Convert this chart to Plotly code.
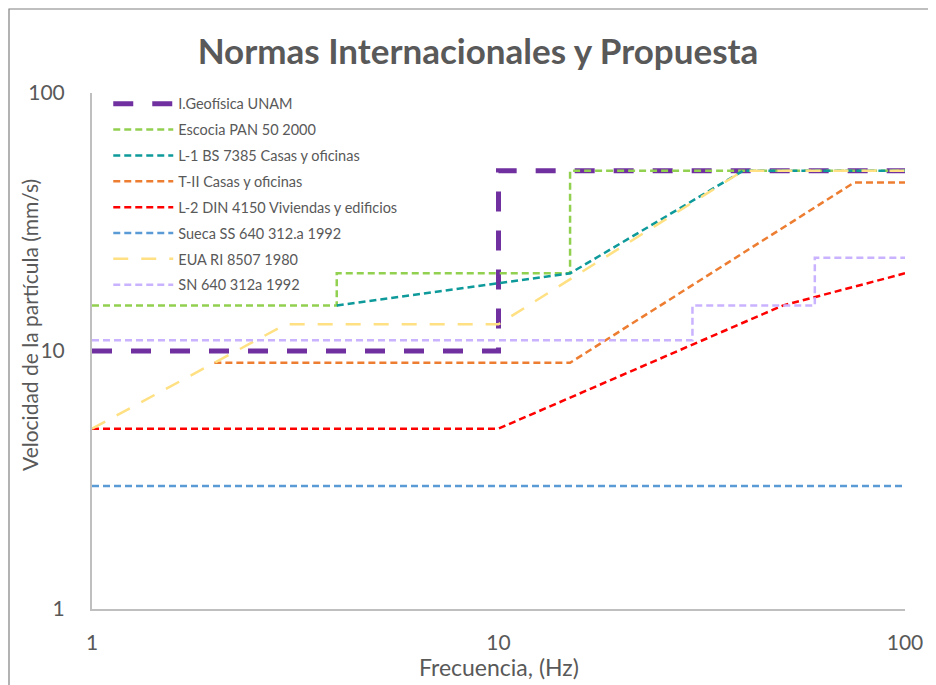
import plotly.graph_objects as go

# ---- data ----
geo_x = [1, 10, 10, 100]
geo_y = [10, 10, 50, 50]

esc_x = [1, 4, 4, 15, 15, 100]
esc_y = [15, 15, 20, 20, 50, 50]

bs_x = [4, 15, 40, 100]
bs_y = [15, 20, 50, 50]

t2_x = [2, 15, 75, 100]
t2_y = [9, 9, 45, 45]

din_x = [1, 10, 50, 100]
din_y = [5, 5, 15, 20]

sue_x = [1, 100]
sue_y = [3, 3]

eua_x = [1, 3, 10, 40, 100]
eua_y = [5, 12.7, 12.7, 50, 50]

sn_x = [1, 30, 30, 60, 60, 100]
sn_y = [11, 11, 15, 15, 23, 23]

names = ["I.Geofísica UNAM", "Escocia PAN 50 2000", "L-1 BS 7385 Casas y oficinas",
         "T-II Casas y oficinas", "L-2 DIN 4150 Viviendas y edificios",
         "Sueca SS 640 312.a 1992", "EUA RI 8507 1980", "SN 640 312a 1992"]
xs = [geo_x, esc_x, bs_x, t2_x, din_x, sue_x, eua_x, sn_x]
ys = [geo_y, esc_y, bs_y, t2_y, din_y, sue_y, eua_y, sn_y]

colors = ["#7030A0", "#92D050", "#0E9A9A", "#ED7D31", "#FF0000", "#5B9BD5", "#FFE082", "#C9B2FF"]
widths = [5, 2.5, 2.5, 2.5, 2.5, 2.5, 2.5, 2.5]
dashes = ["20px,19px", "7px,4px", "7px,4px", "7px,4px", "7px,4px", "7px,4px", "15px,13px", "7px,4px"]

FONT = "Lato"
GRAY = "#595959"

# figure sits at an 8px page offset (default body margin)
W, H = 920, 677
L, R, T, B = 84, 23, 85, 76
PW, PH = W - L - R, H - T - B

fig = go.Figure()
for i in range(len(names)):
    fig.add_trace(go.Scatter(
        x=xs[i], y=ys[i], mode="lines", name=names[i],
        legendgroup=f"g{i}",
        line=dict(color=colors[i], width=widths[i], dash=dashes[i]),
    ))

fig.update_layout(
    width=W, height=H,
    margin=dict(l=L, r=R, t=T, b=B),
    paper_bgcolor="white", plot_bgcolor="white",
    font=dict(family=FONT, color=GRAY),
    title=dict(text="<b>Normas Internacionales y Propuesta</b>",
               x=470 / W, xref="container", xanchor="center",
               y=1 - 44 / H, yref="container", yanchor="middle",
               font=dict(size=35, family=FONT, color=GRAY)),
    showlegend=True,
    legend=dict(x=0.02, y=1.01, xanchor="left", yanchor="top",
                bgcolor="rgba(0,0,0,0)", font=dict(size=14.5, family=FONT, color=GRAY),
                itemwidth=60, tracegroupgap=4),
    shapes=[dict(type="rect", xref="paper", yref="paper",
                 x0=(1 - L) / PW, x1=1.2, y0=-0.3, y1=(T + PH - 1) / PH,
                 line=dict(color="#808080", width=1.2), fillcolor="rgba(0,0,0,0)", layer="below")],
    annotations=[
        dict(text="Frecuencia, (Hz)", xref="paper", yref="paper",
             x=(490.5 - L) / PW, y=(T + PH - 659) / PH, xanchor="center", yanchor="middle",
             showarrow=False, font=dict(size=23, family=FONT, color=GRAY)),
        dict(text="Velocidad de la partícula (mm/s)", xref="paper", yref="paper",
             x=(21 - L) / PW, y=(T + PH - 317) / PH, xanchor="center", yanchor="middle",
             textangle=-90, showarrow=False, font=dict(size=21, family=FONT, color=GRAY)),
    ],
)

fig.update_xaxes(type="log", range=[0, 2], tickvals=[1, 10, 100], ticktext=["1", "10", "100"],
                 showgrid=False, zeroline=False, showline=True, linecolor="#BFBFBF", linewidth=2,
                 ticks="", ticklabelstandoff=14, tickfont=dict(size=21, color=GRAY), automargin=False)
fig.update_yaxes(type="log", range=[0, 2], tickvals=[1, 10, 100], ticktext=["1", "10", "100"],
                 showgrid=False, zeroline=False, showline=True, linecolor="#BFBFBF", linewidth=2,
                 ticks="", ticklabelstandoff=21, tickfont=dict(size=21, color=GRAY), automargin=False)

fig.write_html("out.html")
